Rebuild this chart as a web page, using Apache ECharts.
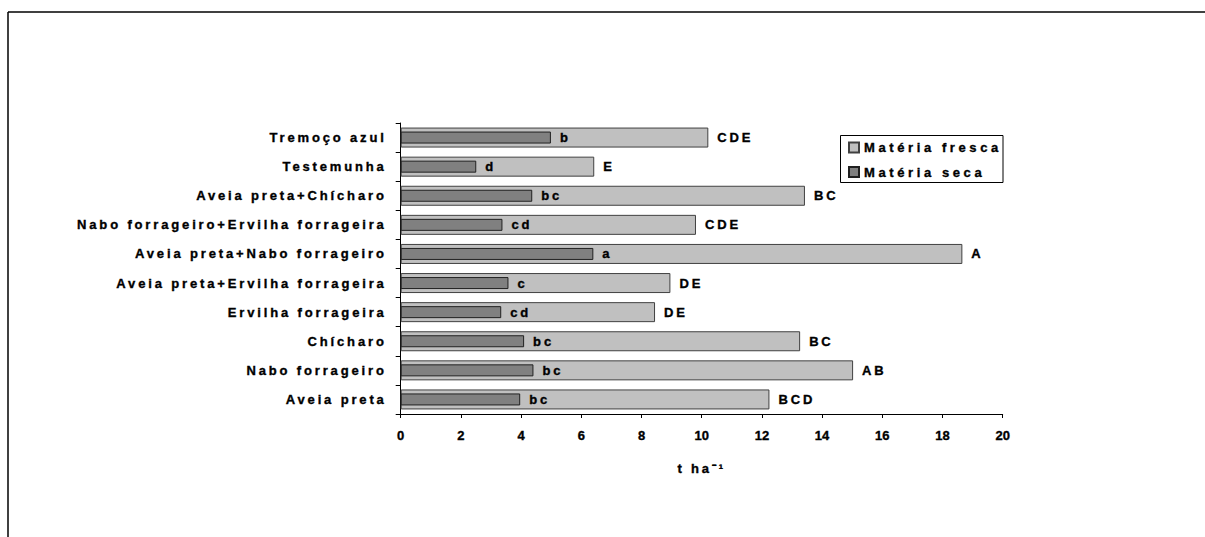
<!DOCTYPE html>
<html>
<head>
<meta charset="utf-8">
<script src="https://cdn.jsdelivr.net/npm/echarts@6/dist/echarts.min.js"></script>
<style>
html,body{margin:0;padding:0;background:#fff;}
#c{width:1205px;height:537px;}
#c text{letter-spacing:2.85px;font-weight:bold !important;stroke:#000 !important;stroke-width:0.35px !important;}
#c text[style*="Arimo"]{letter-spacing:0;}
#c text[style*="Helvetica"]{letter-spacing:3.6px;}
</style>
</head>
<body>
<div id="c"></div>
<script>
var categories = ['Aveia preta','Nabo forrageiro','Chícharo','Ervilha forrageira','Aveia preta+Ervilha forrageira','Aveia preta+Nabo forrageiro','Nabo forrageiro+Ervilha forrageira','Aveia preta+Chícharo','Testemunha','Tremoço azul'];
var freshValues = [12.25, 15.03, 13.27, 8.45, 8.96, 18.66, 9.81, 13.43, 6.43, 10.22];
var dryValues = [3.97, 4.41, 4.10, 3.34, 3.58, 6.40, 3.38, 4.37, 2.51, 4.99];
var freshLetters = ['BCD','AB','BC','DE','DE','A','CDE','BC','E','CDE'];
var dryLetters = ['bc','bc','bc','cd','c','a','cd','bc','d','b'];
var xTicks = [0,2,4,6,8,10,12,14,16,18,20];
var seriesNames = ['Matéria fresca','Matéria seca'];
var axisTitle = 't ha⁻¹';

var FONT = 'Liberation Sans, Arial, sans-serif';
var TICKFONT = 'Arimo, Liberation Sans, Arial';
var LEGENDFONT = 'Liberation Sans, Arial, Helvetica';
var chart = echarts.init(document.getElementById('c'), null, {renderer: 'svg'});
chart.setOption({
  animation: false,
  backgroundColor: '#fff',
  graphic: [
    {type:'line', shape:{x1:8, y1:12, x2:1205, y2:12}, style:{stroke:'#000', lineWidth:1.5}},
    {type:'line', shape:{x1:8, y1:12, x2:8, y2:537}, style:{stroke:'#000', lineWidth:1.5}},
    {type:'rect', shape:{x:840.5, y:135.5, width:162.5, height:47}, style:{fill:'none', stroke:'#000', lineWidth:1}}
  ],
  grid: {left: 400.7, right: 202.3, top: 123, bottom: 123, containLabel: false},
  legend: {
    left: 848, top: 139.5, orient: 'vertical',
    data: seriesNames,
    padding: 0,
    itemWidth: 10, itemHeight: 10, itemGap: 8.6, itemTextGap: 8,
    icon: 'rect',
    textStyle: {fontFamily: LEGENDFONT, fontWeight: 'bold', fontSize: 13, lineHeight: 16, color: '#000'}
  },
  xAxis: {
    type: 'value', min: 0, max: 20, interval: 2,
    axisLine: {show: true, lineStyle: {color: '#000'}},
    axisTick: {show: true, length: 4, lineStyle: {color: '#000'}},
    splitLine: {show: false},
    axisLabel: {margin: 15, fontFamily: TICKFONT, fontWeight: 'bold', fontSize: 13, color: '#000',
      formatter: function(v){ return xTicks.indexOf(v) >= 0 ? String(v) : ''; }},
    name: axisTitle,
    nameLocation: 'middle', nameGap: 48,
    nameTextStyle: {fontFamily: FONT, fontWeight: 'bold', fontSize: 13, color: '#000'}
  },
  yAxis: [{
    type: 'category', data: categories,
    axisLine: {show: true, lineStyle: {color: '#000'}},
    axisTick: {show: true, length: 5, alignWithLabel: false, lineStyle: {color: '#000'}},
    axisLabel: {margin: 14, fontFamily: FONT, fontWeight: 'bold', fontSize: 13, color: '#000'}
  }, {
    type: 'category', data: categories, show: false
  }],
  series: [{
    name: seriesNames[0], type: 'bar', yAxisIndex: 0,
    data: freshValues, barWidth: 20,
    itemStyle: {color: '#c0c0c0', borderColor: '#404040', borderWidth: 1},
    label: {show: true, position: 'right', distance: 9,
      fontFamily: FONT, fontWeight: 'bold', fontSize: 13, color: '#000',
      formatter: function(p){ return freshLetters[p.dataIndex]; }},
    z: 2
  }, {
    name: seriesNames[1], type: 'bar', yAxisIndex: 1,
    data: dryValues, barWidth: 12,
    itemStyle: {color: '#808080', borderColor: '#202020', borderWidth: 1},
    label: {show: true, position: 'right', distance: 9,
      fontFamily: FONT, fontWeight: 'bold', fontSize: 13, color: '#000',
      formatter: function(p){ return dryLetters[p.dataIndex]; }},
    z: 3
  }]
});
</script>
</body>
</html>
